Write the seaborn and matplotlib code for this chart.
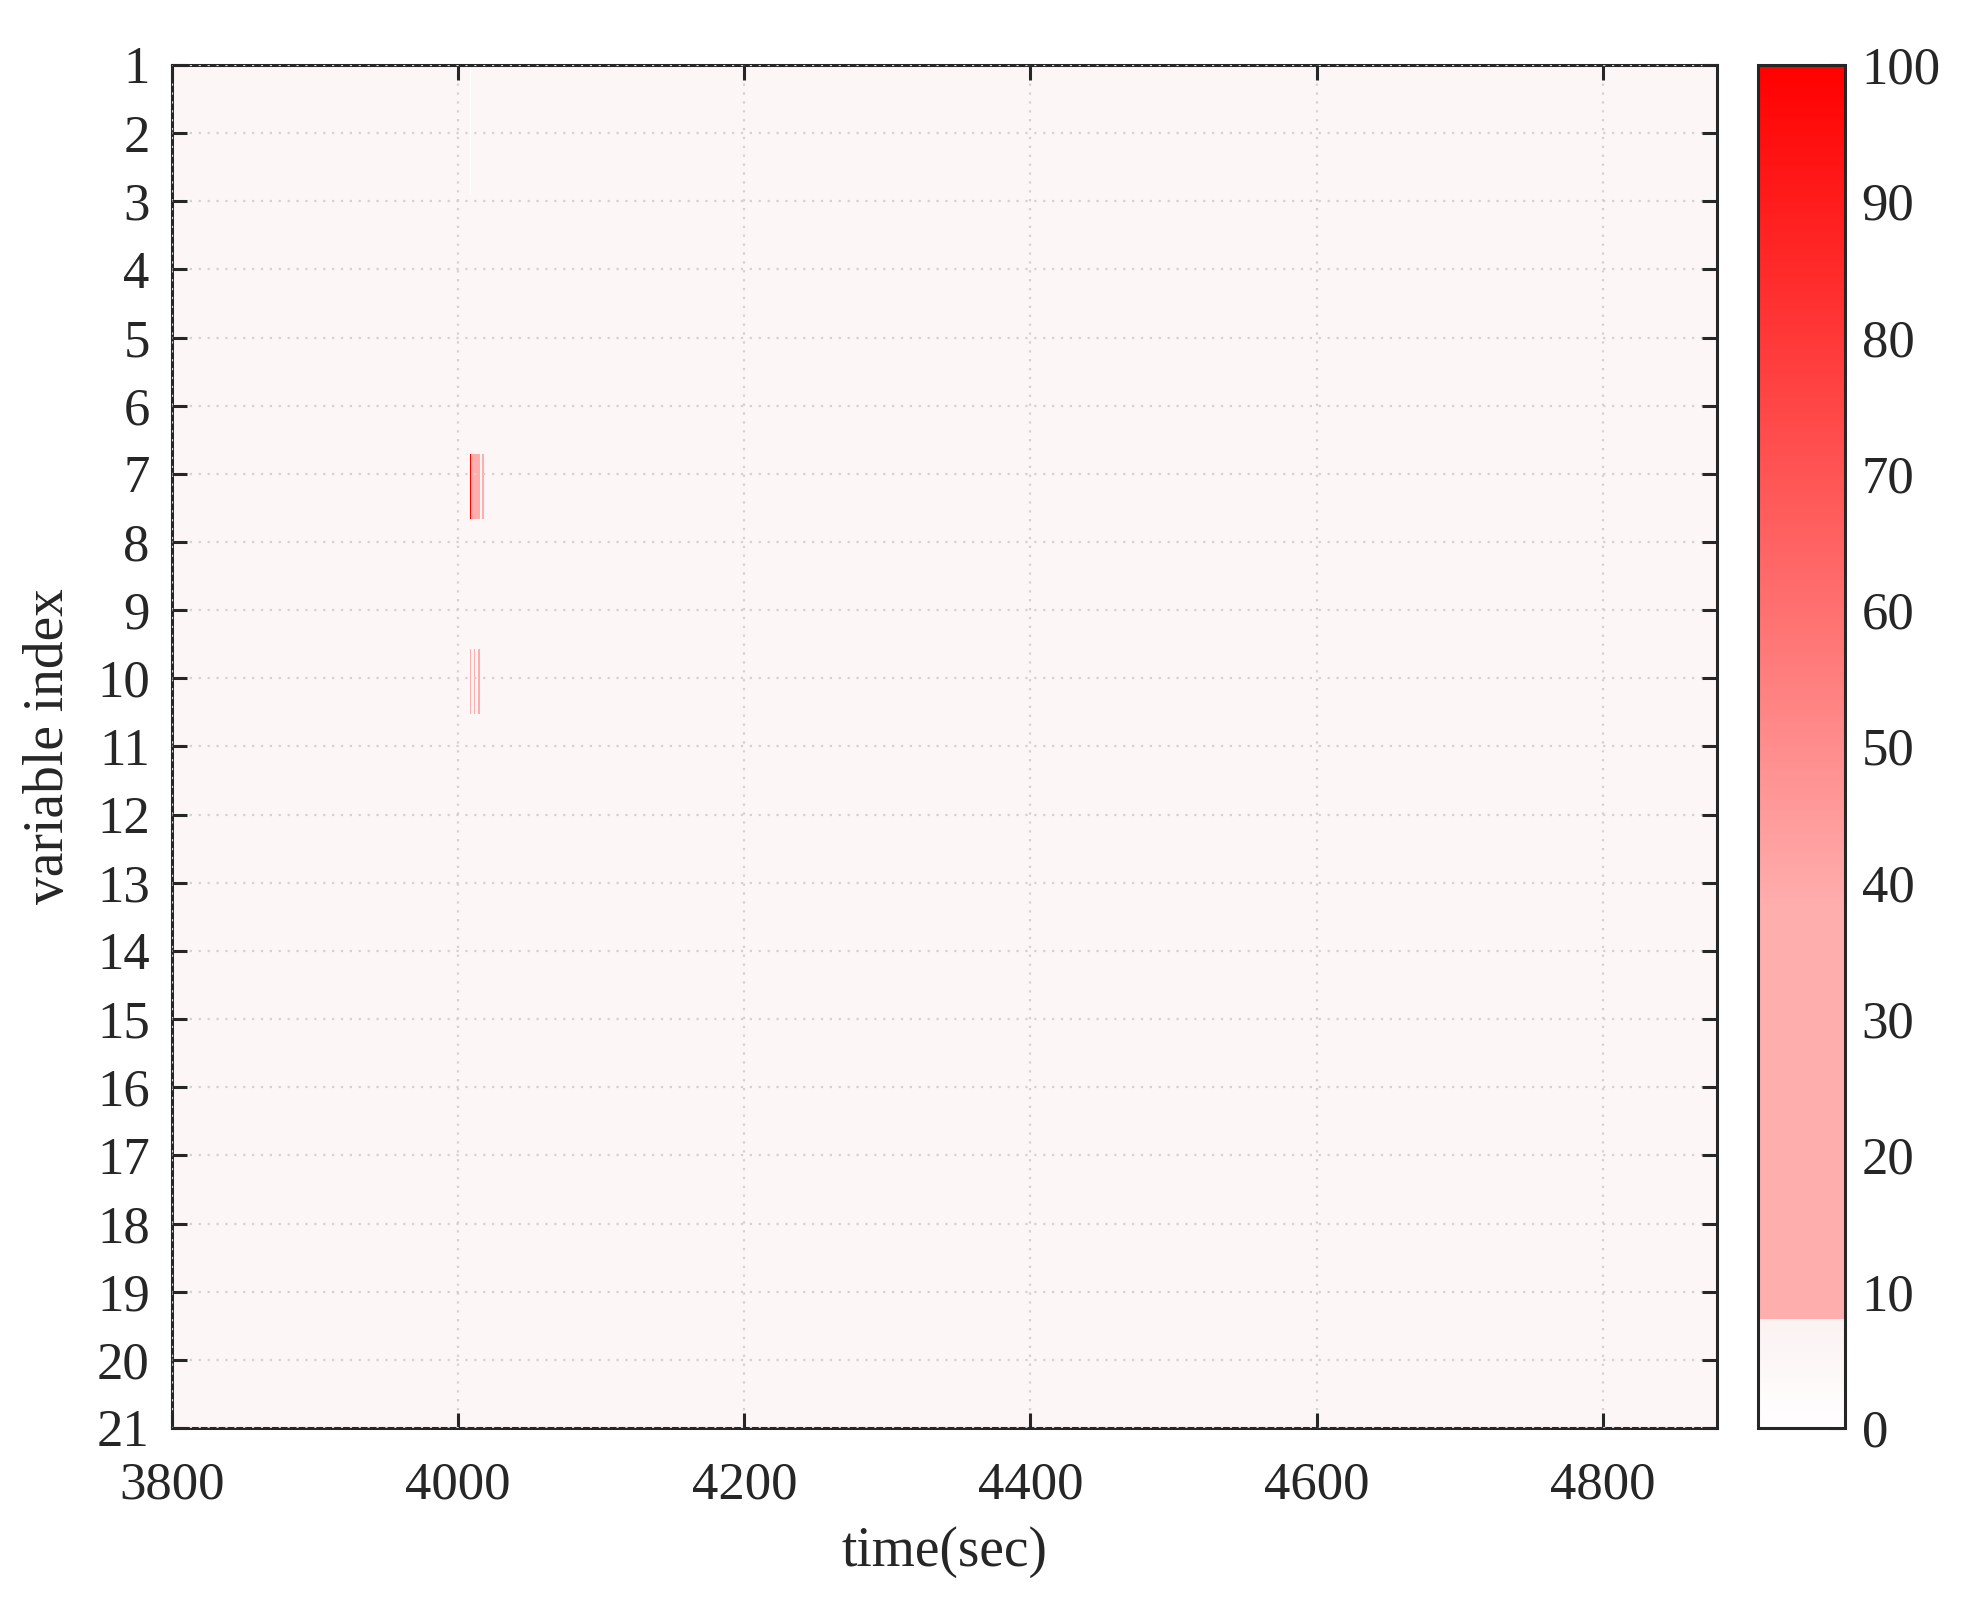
import numpy as np
import pandas as pd
import seaborn as sns
import matplotlib
matplotlib.use("Agg")
import matplotlib.pyplot as plt
from matplotlib.colors import LinearSegmentedColormap

# time grid (1 s steps) and variable cells
t_start = 3800
t_end = 4880
n_cells = 21

background = 5

# anomaly events: variable cell, first second, last second (excl.), value
ev_var = [1, 2, 7, 7, 7, 7, 10, 10, 10]
ev_t0 = [4008, 4008, 4008, 4009, 4014, 4017, 4008, 4011, 4014]
ev_t1 = [4009, 4009, 4009, 4014, 4015, 4018, 4009, 4012, 4015]
ev_val = [0, 0, 100, 30, 22, 28, 28, 28, 28]

xticks = [3800, 4000, 4200, 4400, 4600, 4800]
yticks = list(range(1, 22))
cticks = list(range(0, 101, 10))

times = np.arange(t_start, t_end)
mat = np.full((n_cells, len(times)), float(background))
for v, a, b, val in zip(ev_var, ev_t0, ev_t1, ev_val):
    mat[v - 1, (times >= a) & (times < b)] = val
df = pd.DataFrame(mat, index=range(1, n_cells + 1), columns=times)

cmap = LinearSegmentedColormap.from_list("anom", [
    (0.0, "#ffffff"), (0.08, "#fbf1f1"), (0.0801, "#ffaeae"),
    (0.38, "#ffaeae"), (1.0, "#ff0000")], N=512)

sns.set_theme(style="ticks")
plt.rcParams['font.family'] = ['Liberation Serif', 'DejaVu Serif']
txt = "#262626"

fig = plt.figure(figsize=(9.9, 8.055), dpi=200)
ax = fig.add_axes([0.0869, 0.1136, 0.7803, 0.8461])
cax = fig.add_axes([0.8879, 0.1136, 0.0439, 0.8461])

sns.heatmap(df, ax=ax, cbar_ax=cax, cmap=cmap, vmin=0, vmax=100,
            xticklabels=False, yticklabels=False, rasterized=True)

ax.set_xticks([t - t_start for t in xticks])
ax.set_xticklabels([str(t) for t in xticks], rotation=0)
ax.set_yticks([(v - 1) * n_cells / 20 for v in yticks])
ax.set_yticklabels([str(v) for v in yticks], rotation=0)
ax.set_xlim(0, len(times))
ax.set_ylim(n_cells, 0)

for s in ax.spines.values():
    s.set_visible(True)
    s.set_linewidth(1.1)
    s.set_color(txt)
ax.tick_params(direction="in", length=5.5, width=1.1, colors=txt,
               labelsize=19, top=True, right=True, left=True, bottom=True)
ax.tick_params(axis="x", pad=12)
ax.tick_params(axis="y", pad=8)
ax.grid(True, linestyle=(0, (1, 3)), color="#d6d0d0", linewidth=0.8)
ax.set_axisbelow(False)
ax.set_xlabel("time(sec)", fontsize=20, color=txt, labelpad=6)
ax.set_ylabel("variable index", fontsize=20, color=txt, labelpad=8)

cb = ax.collections[0].colorbar
cb.set_ticks(cticks)
cb.outline.set_visible(True)
cb.outline.set_linewidth(1.1)
cb.outline.set_edgecolor(txt)
cax.tick_params(direction="in", length=5.5, width=1.1, colors=txt,
                labelsize=19, right=True, left=False, pad=6)

fig.savefig("out.png", dpi=200)
